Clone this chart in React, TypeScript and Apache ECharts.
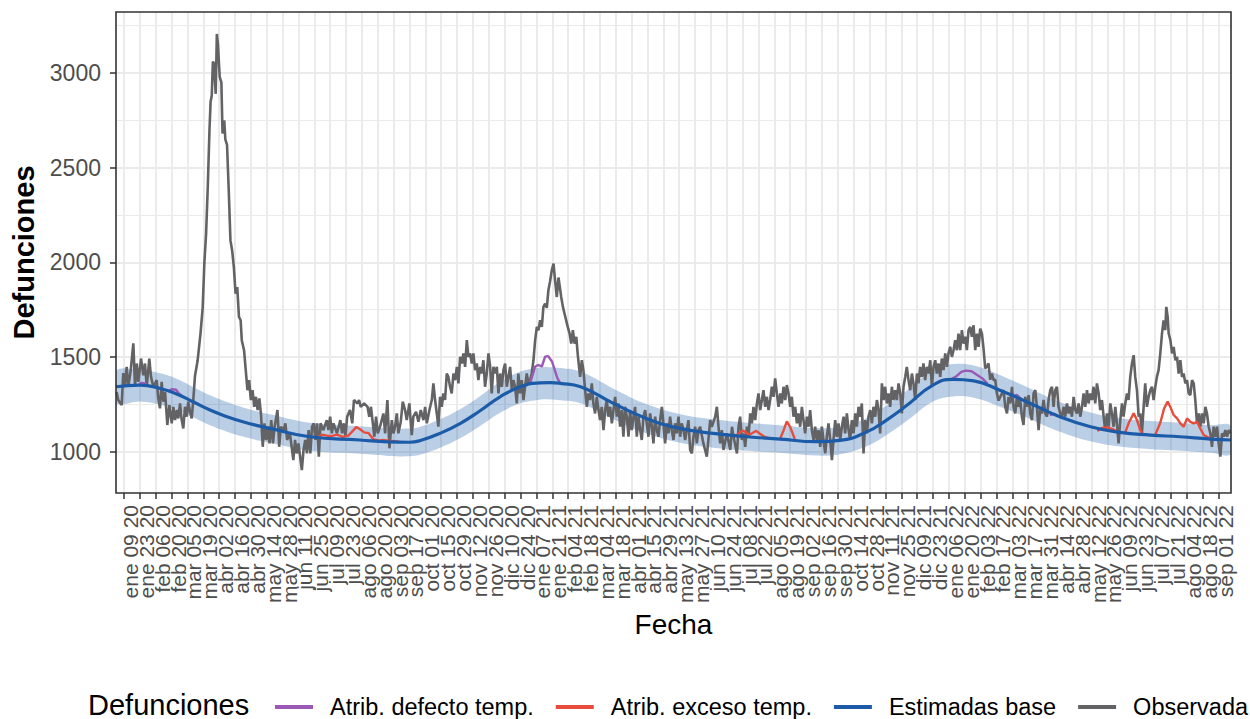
import React, { useEffect, useRef } from "react";
import * as echarts from "echarts";

// ---------- data ----------
// x values are days since 2020-01-02
const START_UTC = Date.UTC(2020, 0, 2);
const X_MAX = 984;
const MESES = ["ene", "feb", "mar", "abr", "may", "jun", "jul", "ago", "sep", "oct", "nov", "dic"];
const TICK_DAYS = Array.from({ length: 70 }, (_, k) => 7 + 14 * k); // ene 09 20 ... sep 01 22
const Y_TICKS = [1000, 1500, 2000, 2500, 3000];

const obs2020: [number, number][] = [
  [0.6,1316],[2,1273],[5,1246],[6.4,1415],[7.9,1352],[9.4,1448],[10.9,1343],[13,1431],[15.3,1572],[16.8,1343],[18.3,1466],[19.7,1369],[22.1,1492],[24.1,1404],[25.6,1466],[27.1,1343],[29.4,1492],[30.9,1395],[32.9,1343],[35.9,1378],[37.3,1282],[38.8,1229],[40.3,1369],[41.8,1264],[43.3,1316],[45.3,1141],[47.1,1246],[49.2,1150],[50.6,1237],[52.1,1167],[53.6,1220],[55,1176],[56.5,1255],[58,1167],[59.4,1123],[60.9,1237],[62.4,1185],[63.8,1264],[65.3,1211],[66.8,1176],[68.2,1273],[69.7,1400],[72,1480],[74.5,1620],[76.5,1760],[78,2000],[79.5,2150],[81,2400],[82.5,2700],[83.5,2850],[84.5,2880],[85.5,3060],[86.5,3050],[88,2890],[89,3206],[90,3150],[91.5,2980],[93,2950],[94,2680],[95.5,2750],[96.5,2650],[98,2620],[99.5,2380],[101,2116],[102.5,2063],[104,1975],[105.5,1835],[107,1870],[108.5,1712],[110,1694],[111,1589],[113,1536],[114.5,1431],[116,1325],[117.5,1378],[119,1273],[120.5,1325],[122,1237],[123.5,1290],[125,1220],[126.5,1282],[128,1194],[129.5,1026],[131,1150],[132.5,1062],[134,1132],[135.5,1044],[137,1167],[138.5,1044],[140,1132],[142.5,1220],[144,1026],[145.5,1132],[148,1114],[149.5,1150],[151,1062],[153.5,1097],[156.5,956],[158,1062],[159.5,991],[161,1044],[162.5,974],[164,903],[165.5,1009],[167,1062],[168.5,991],[170,1114],[171.5,991],[173,1132],[174.5,1150],[176,1062],[177.5,1150],[179,974],[180.5,1150],[183,1114],[186,1167],[187.5,1114],[189,1185],[190.5,1097],[192,1150],[195,1097],[198,1167],[199.5,1097],[201,1150],[202.5,1079],[204,1185],[206.5,1220],[208.5,1150],[210,1273],[213,1255],[214.5,1273],[216,1237],[219,1255],[222,1237],[223.5,1185],[225,1237],[228,1079],[229.5,1185],[231,1097],[233,1132],[236,1202],[237.5,1097],[239.5,1273],[241.3,1018],[243.4,1167],[244.8,1097],[246.3,1132],[247.8,1202],[249.2,1097],[251.3,1158],[253.1,1264],[255.1,1220],[256.6,1167],[258.9,1255],[261,1088],[262.4,1185],[264.8,1211],[266.9,1158],[269,1220],[271.3,1167],[272.8,1237],[274.3,1150],[276.6,1220],[278.7,1273],[280.1,1361],[281.6,1273],[283.1,1202],[284.5,1132],[286,1290],[287.5,1237],[288.9,1308],[290.4,1273],[291.9,1413],[293.3,1395],[294.8,1343],[296.3,1308],[297.8,1413],[299.3,1378],[300.8,1448],[302.2,1361],[303.7,1501],[305.2,1466],[306.6,1519],[308.1,1448],[309.6,1589],[311,1501],[312.5,1519],[314,1466],[315.4,1519],[316.9,1431],[318.4,1466],[319.8,1378],[321.3,1448],[322.8,1413],[324.2,1483],[325.7,1343],[327.2,1413],[328.7,1519],[330.2,1448],[331.6,1308],[333.1,1448],[334.6,1413],[336.1,1448],[337.5,1308],[339,1413],[340.5,1343],[341.9,1431],[343.4,1466],[344.9,1343],[346.3,1395],[347.8,1448],[349.3,1326],[350.7,1378],[352.2,1343],[353.7,1255],[355.1,1413],[356.6,1308],[358.1,1378],[359.6,1273],[361,1343],[362.5,1413],[364,1361],[365.5,1378]
];
const obs2021: [number, number][] = [
  [366.9,1413],[368.4,1483],[369.9,1589],[371.4,1659],[372.8,1641],[374.3,1694],[375.8,1659],[377.2,1765],[378.7,1782],[380.2,1760],[381.6,1853],[383.1,1900],[384.6,1958],[386.1,1993],[387.5,1905],[389,1817],[390.5,1920],[392.9,1817],[394.4,1765],[395.8,1730],[398.7,1659],[400.3,1624],[401.8,1571],[403.2,1642],[404.7,1571],[406.2,1607],[407.7,1501],[409.6,1395],[411.1,1483],[412.5,1431],[414,1325],[415.5,1237],[416.9,1308],[418.4,1273],[419.9,1361],[421.3,1255],[422.8,1202],[424.3,1290],[425.8,1220],[427.2,1167],[428.7,1237],[430.2,1114],[431.7,1220],[433.1,1273],[434.6,1185],[436.1,1237],[437.6,1150],[439,1220],[440.5,1290],[442,1185],[443.4,1255],[444.9,1132],[446.4,1220],[447.8,1079],[449.3,1237],[450.8,1185],[452.3,1079],[453.7,1220],[455.2,1114],[456.7,1185],[458.1,1237],[459.6,1079],[461.1,1185],[462.6,1114],[464,1062],[465.5,1185],[467,1220],[468.4,1150],[469.9,1079],[471.4,1202],[472.9,1132],[474.3,1044],[475.8,1185],[477.3,1114],[478.7,1079],[480.2,1167],[481.7,1237],[483.1,1150],[484.6,1044],[486.1,1150],[487.6,1097],[489,1185],[490.5,1114],[492,1062],[493.4,1150],[494.9,1097],[496.4,1185],[497.9,1079],[499.3,1150],[500.8,1114],[502.3,1062],[503.7,1114],[505.2,1167],[506.7,1009],[508.2,991],[509.6,1079],[511.1,1132],[512.6,1044],[514,1114],[515.5,1132],[518.4,1044],[521.4,974],[524.4,1167],[525.8,1132],[528.8,1185],[530.3,1237],[531.7,1132],[533.2,1044],[534.7,1114],[536.1,1009],[539.1,1097],[542.1,1009],[543.6,1132],[545,1079],[548,991],[549.4,1132],[550.8,1185],[552.3,1062],[553.8,1097],[555.3,1026],[556.8,1132],[558.2,1079],[559.7,1202],[561.2,1150],[562.6,1237],[564.1,1167],[565.6,1255],[567,1308],[568.5,1220],[570,1273],[571.4,1325],[572.9,1237],[574.4,1290],[575.9,1220],[577.3,1273],[578.8,1343],[580.3,1290],[581.7,1387],[583.2,1308],[584.7,1237],[586.2,1308],[587.6,1255],[589.1,1343],[590.6,1273],[592,1352],[593.5,1308],[595,1237],[596.4,1290],[597.9,1185],[599.4,1237],[600.9,1150],[602.3,1202],[603.8,1132],[605.3,1237],[606.7,1167],[608.2,1097],[609.7,1185],[611.2,1132],[612.6,1220],[614.1,1114],[615.6,1062],[617,1132],[618.5,1062],[620,1114],[621.5,1026],[622.9,1132],[624.4,1062],[625.9,991],[627.3,1079],[628.8,1150],[630.3,1062],[631.8,956],[633.2,1062],[634.7,1167],[636.2,1079],[637.6,1150],[639.1,1062],[640.6,1132],[642.1,1185],[643.5,1097],[645,1202],[646.5,1114],[647.9,1062],[649.4,1167],[650.9,1097],[652.4,1202],[653.8,1132],[655.3,1237],[656.8,1185],[658.2,1255],[659.7,991],[661.2,1167],[662.7,1097],[664.1,1185],[665.6,1220],[667.1,1150],[668.5,1237],[670,1185],[671.5,1273],[672.9,1220],[674.4,1097],[675.9,1361],[677.4,1273],[678.8,1343],[680.3,1255],[681.8,1308],[683.2,1237],[684.7,1343],[686.2,1273],[687.6,1325],[689.1,1273],[690.6,1361],[692.1,1308],[693.5,1202],[695,1343],[696.5,1395],[697.9,1448],[699.4,1378],[700.9,1325],[702.4,1413],[703.8,1361],[705.3,1273],[706.8,1413],[708.2,1361],[709.7,1448],[711.2,1395],[712.6,1466],[714.1,1378],[715.6,1448],[717.1,1413],[718.6,1483],[720,1343],[721.5,1448],[723,1483],[724.4,1413],[725.9,1466],[727.4,1395],[728.8,1492],[730.3,1431]
];
const obs2022: [number, number][] = [
  [731.8,1519],[733.3,1448],[734.7,1519],[736.2,1554],[737.7,1501],[739.1,1536],[740.6,1589],[742.1,1536],[743.5,1624],[745,1536],[746.5,1642],[748,1571],[749.5,1607],[750.9,1536],[752.4,1642],[753.9,1659],[755.3,1607],[756.8,1668],[758.3,1536],[759.8,1624],[761.2,1554],[762.7,1650],[764.2,1624],[765.6,1545],[767.1,1440],[768.6,1450],[770,1466],[771.5,1380],[773,1413],[774.5,1378],[775.9,1380],[777.4,1308],[778.9,1270],[780.4,1290],[781.9,1308],[783.3,1325],[784.8,1237],[786.3,1202],[787.7,1290],[789.2,1255],[790.7,1343],[792.1,1237],[793.6,1202],[795.1,1290],[796.5,1237],[798,1273],[799.5,1185],[800.9,1141],[802.4,1290],[803.9,1237],[805.4,1299],[806.8,1202],[808.3,1167],[809.8,1308],[811.3,1325],[812.7,1237],[814.2,1114],[815.7,1237],[817.1,1202],[818.6,1273],[820.1,1202],[821.6,1185],[823,1273],[824.5,1325],[826,1343],[827.4,1237],[828.9,1325],[830.4,1343],[831.8,1237],[833.3,1202],[834.8,1185],[836.3,1237],[837.7,1185],[839.2,1255],[840.7,1202],[842.2,1237],[843.6,1185],[845.1,1290],[846.6,1220],[848,1202],[849.5,1255],[851,1185],[852.5,1237],[853.9,1308],[855.4,1237],[856.9,1325],[858.3,1255],[859.8,1308],[861.3,1273],[862.7,1343],[864.2,1255],[865.7,1361],[867.2,1308],[868.6,1220],[870.1,1273],[871.6,1185],[873,1114],[874.5,1202],[876,1132],[877.5,1255],[878.9,1202],[880.4,1132],[881.9,1237],[883.3,1150],[884.8,1044],[886.3,1167],[887.8,1255],[889.2,1185],[890.7,1255],[892.2,1308],[893.6,1273],[895.1,1395],[896.6,1466],[898.1,1510],[899.5,1395],[901,1325],[902.5,1185],[903.9,1202],[905.4,1097],[906.9,1237],[908.3,1361],[909.8,1237],[911.3,1290],[912.8,1325],[914.2,1343],[915.7,1273],[917.2,1343],[918.6,1395],[920.1,1431],[921.6,1519],[923.1,1624],[924.5,1694],[926,1642],[926.9,1765],[928.1,1712],[929,1624],[930.5,1589],[932,1519],[933.4,1554],[934.9,1483],[936.4,1501],[937.8,1413],[939.3,1483],[940.8,1395],[942.2,1413],[943.7,1361],[945.2,1378],[946.7,1308],[948.1,1299],[949.6,1378],[951.1,1361],[952.5,1273],[954,1150],[955.5,1202],[956.9,1132],[958.4,1202],[959.9,1150],[961.4,1237],[962.8,1202],[964.3,1132],[965.8,1097],[967.2,1026],[968.7,1132],[970.2,1079],[971.7,1132],[973.1,1044],[974.6,974],[976.1,1097],[977.5,1079],[979,1114],[980.5,1079],[982,1114],[983.4,1097]
];

// Estimadas base (smooth baseline) and its band
const BASE_DAYS = [0,21,39,54,68,83,98,112,127,136,171,215,240,259,268,286,304,321,339,357,374,383,392,410,439,468,498,527,557,586,618,639,663,680,698,721,739,757,780,807,833,860,886,913,939,966,984];
const BASE_VALUES = [1343,1352,1334,1304,1264,1220,1185,1158,1135,1123,1079,1062,1052,1050,1058,1097,1150,1215,1290,1343,1364,1365,1361,1343,1255,1176,1123,1097,1079,1067,1053,1060,1106,1167,1245,1352,1382,1374,1325,1255,1185,1132,1102,1088,1079,1067,1062];
const BAND_HI = [1425,1432,1414,1384,1342,1298,1262,1234,1210,1198,1153,1135,1124,1122,1130,1171,1226,1292,1369,1423,1445,1446,1442,1423,1333,1252,1198,1171,1153,1140,1125,1132,1180,1244,1323,1432,1463,1455,1405,1333,1262,1207,1177,1162,1153,1140,1135];
const BAND_LO = [1258,1265,1248,1220,1182,1140,1106,1080,1058,1047,1005,989,978,976,984,1021,1072,1135,1206,1256,1275,1276,1272,1256,1172,1097,1047,1021,1005,994,980,986,1030,1088,1163,1265,1292,1285,1238,1172,1106,1055,1027,1013,1005,994,989];

// Atrib. defecto temp. (cold) segments
const defecto: [number, number | string][] = [
  [20,1352],[22,1363],[25,1362],[28,1350],[29,"-"],
  [46,1318],[49,1330],[53,1327],[56,1304],[58,1298],[59,"-"],
  [365.5,1364],[369.9,1449],[372.5,1458],[375.8,1450],[378.7,1502],[381.4,1505],[384.9,1475],[389.3,1392],[392,1361],[393,"-"],
  [737,1382],[742,1400],[746,1422],[750,1428],[755,1425],[760,1405],[765,1385],[769,1360],[770,"-"],
  [791,1290],[795,1300],[799,1276],[800,"-"],
  [824,1194],[828,1200],[832,1184]
];
// Atrib. exceso temp. (heat) segments
const exceso: [number, number | string][] = [
  [178,1076],[182,1090],[186,1085],[190,1082],[195,1090],[200,1078],[205,1085],[209,1110],[212,1130],[215,1120],[219,1102],[223,1098],[227,1066],[232,1058],[236,1062],[240,1058],[246,1056],[250,1052],[251,"-"],
  [546,1080],[550,1098],[553,1112],[556,1102],[559,1090],[562,1100],[565,1110],[568,1096],[572,1080],[576,1072],[577,"-"],
  [586,1067],[589,1110],[592,1160],[595,1130],[599,1068],[600,"-"],
  [866,1110],[870,1125],[875,1128],[880,1118],[884,1104],[885,"-"],
  [890.7,1102],[893.6,1150],[898.1,1203],[901,1167],[903.9,1114],[905.9,1098],[906,"-"],
  [917.2,1090],[921.6,1153],[925,1229],[928.1,1265],[931,1229],[933.4,1194],[936.4,1176],[939.3,1150],[942.2,1132],[945.2,1176],[948.1,1158],[951.1,1150],[954,1158],[956.9,1123],[959.9,1088],[965.8,1070]
];

const SERIES_NAMES = ["Atrib. defecto temp.", "Atrib. exceso temp.", "Estimadas base", "Observada"];
const COLORS = { defecto: "#9B59B6", exceso: "#E74C3C", base: "#1C5BA8", obs: "#636366", band: "#2E6DB4" };

// ---------- layout ----------
const W = 1250, H = 719;
const G = { left: 116, right: 19, top: 12, bottom: 226 };
const FONT = "'Liberation Sans', Arial, Helvetica, sans-serif";

function fmtDay(d: number): string {
  const dt = new Date(START_UTC + Math.round(d) * 86400000);
  const dd = String(dt.getUTCDate()).padStart(2, "0");
  const yy = String(dt.getUTCFullYear() % 100).padStart(2, "0");
  return `${MESES[dt.getUTCMonth()]} ${dd} ${yy}`;
}

export default function App() {
  const ref = useRef<HTMLDivElement>(null);
  useEffect(() => {
    document.body.style.margin = "0";
    const chart = echarts.init(ref.current!, null, { renderer: "svg" });
    const obs = [...obs2020, ...obs2021, ...obs2022];
    const base = BASE_DAYS.map((d, i) => [d, BASE_VALUES[i]]);
    const bandData = BASE_DAYS.map((d, i) => [d, BAND_LO[i], BAND_HI[i]]);
    // labels split over two overlaid axes so that no label gets auto-hidden
    const labelsA = TICK_DAYS.filter((_, i) => i % 2 === 0);
    const labelsB = TICK_DAYS.filter((_, i) => i % 2 === 1);
    const labelStyle = {
      rotate: 90,
      showMinLabel: true,
      showMaxLabel: true,
      hideOverlap: false,
      verticalAlign: "top",
      lineHeight: 13,
      formatter: (v: number) => fmtDay(v),
      fontSize: 21,
      color: "#4D4D4D",
      margin: 12,
      fontFamily: FONT,
    };
    const option: any = {
      animation: false,
      textStyle: { fontFamily: FONT },
      grid: { left: G.left, right: G.right, top: G.top, bottom: G.bottom, containLabel: false },
      xAxis: [
        {
          type: "value",
          min: 0,
          max: X_MAX,
          interval: 14,
          axisLine: { show: false },
          axisTick: { show: true, customValues: TICK_DAYS, length: 6, lineStyle: { color: "#333333", width: 1.5 } },
          axisLabel: { ...labelStyle, customValues: labelsA },
          splitLine: { show: true, lineStyle: { color: "#EBEBEB", width: 1 } },
          minorTick: { show: false, splitNumber: 2 },
          minorSplitLine: { show: true, lineStyle: { color: "#EBEBEB", width: 2 } },
          name: "Fecha",
          nameLocation: "middle",
          nameGap: 114,
          nameTextStyle: { fontSize: 28, color: "#000000", fontFamily: FONT },
        },
        {
          type: "value",
          position: "bottom",
          offset: 0,
          min: 0,
          max: X_MAX,
          interval: 14,
          axisLine: { show: false },
          axisTick: { show: false },
          axisLabel: { ...labelStyle, customValues: labelsB },
          splitLine: { show: false },
          minorSplitLine: { show: false },
        },
      ],
      yAxis: {
        type: "value",
        min: 782,
        max: 3322,
        splitNumber: 5,
        axisLine: { show: false },
        axisTick: { show: true, customValues: Y_TICKS, length: 6, lineStyle: { color: "#333333", width: 1.5 } },
        axisLabel: {
          customValues: Y_TICKS,
          formatter: (v: number) => String(v),
          fontSize: 23,
          color: "#4D4D4D",
          margin: 15,
          fontFamily: FONT,
        },
        splitLine: { show: true, lineStyle: { color: "#EBEBEB", width: 2 } },
        minorTick: { show: false, splitNumber: 2 },
        minorSplitLine: { show: true, lineStyle: { color: "#EBEBEB", width: 1 } },
        name: "Defunciones",
        nameLocation: "middle",
        nameGap: 74,
        nameTextStyle: { fontSize: 29, fontWeight: "bold", color: "#000000", fontFamily: FONT },
      },
      legend: {
        data: SERIES_NAMES,
        left: 270,
        top: 690,
        width: 1500,
        itemWidth: 38,
        itemHeight: 4,
        itemGap: 22,
        icon: "rect",
        selectedMode: false,
        textStyle: { fontSize: 23.5, color: "#000000", padding: [0, 0, 0, 12], fontFamily: FONT },
      },
      graphic: [
        {
          type: "text",
          left: 88,
          top: 690,
          style: { text: "Defunciones", fontSize: 29, lineHeight: 28, fill: "#000000", fontFamily: FONT },
        },
        {
          type: "rect",
          z: 100,
          silent: true,
          shape: { x: G.left, y: G.top, width: W - G.left - G.right, height: H - G.top - G.bottom },
          style: { fill: "none", stroke: "#333333", lineWidth: 1.6 },
        },
      ],
      series: [
        {
          name: "band",
          type: "custom",
          data: bandData,
          clip: true,
          silent: true,
          encode: { x: 0, y: [1, 2] },
          renderItem: (params: any, api: any) => {
            if (params.dataIndex !== 0) return null;
            const top = BASE_DAYS.map((d, i) => api.coord([d, BAND_HI[i]]));
            const bot = BASE_DAYS.map((d, i) => api.coord([d, BAND_LO[i]])).reverse();
            return {
              type: "polygon",
              shape: { points: [...top, ...bot], smooth: 0.4 },
              style: { fill: COLORS.band, opacity: 0.33 },
            };
          },
          z: 1,
        },
        {
          name: "Observada",
          type: "line",
          data: obs,
          symbol: "none",
          color: COLORS.obs,
          lineStyle: { color: COLORS.obs, width: 2.6 },
          z: 2,
        },
        {
          name: "Atrib. defecto temp.",
          type: "line",
          data: defecto,
          symbol: "none",
          color: COLORS.defecto,
          lineStyle: { color: COLORS.defecto, width: 2.4 },
          z: 3,
        },
        {
          name: "Atrib. exceso temp.",
          type: "line",
          data: exceso,
          symbol: "none",
          color: COLORS.exceso,
          lineStyle: { color: COLORS.exceso, width: 2.4 },
          z: 3,
        },
        {
          name: "Estimadas base",
          type: "line",
          data: base,
          smooth: true,
          symbol: "none",
          color: COLORS.base,
          lineStyle: { color: COLORS.base, width: 3.2 },
          z: 4,
        },
      ],
    };
    chart.setOption(option);
    return () => chart.dispose();
  }, []);
  return <div ref={ref} style={{ width: W, height: H }} />;
}
